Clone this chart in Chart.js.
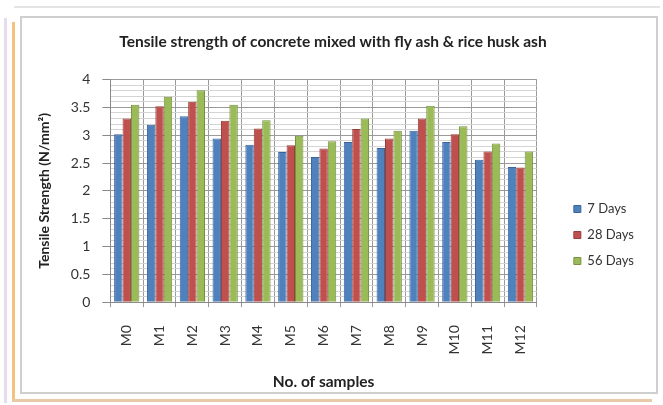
<!DOCTYPE html>
<html><head><meta charset="utf-8">
<script src="https://cdn.jsdelivr.net/npm/chart.js@4"></script>
<style>
html,body{margin:0;padding:0;background:#fff;width:663px;height:405px;overflow:hidden;}
.deco{position:absolute;}
#box{position:absolute;left:20px;top:16px;width:634px;height:374px;border:2px solid #cfcfcf;background:#fff;}
canvas{display:block;}
</style></head><body>
<div class="deco" style="left:4px;top:18px;width:3px;height:385px;background:#e6dcee"></div>
<div class="deco" style="left:12px;top:22px;width:3px;height:380px;background:#f4c27f"></div>
<div class="deco" style="left:14px;top:6px;width:646px;height:2px;background:#e4e4e4"></div>
<div class="deco" style="left:12px;top:399px;width:640px;height:3px;background:#e8c9a8"></div>
<div id="box"><canvas id="c" width="634" height="374"></canvas></div>
<script>
const categories = ['M0','M1','M2','M3','M4','M5','M6','M7','M8','M9','M10','M11','M12'];
const days7  = [3.02,3.19,3.34,2.94,2.83,2.70,2.61,2.88,2.77,3.08,2.88,2.56,2.43];
const days28 = [3.30,3.52,3.60,3.26,3.12,2.82,2.76,3.11,2.94,3.30,3.02,2.71,2.42];
const days56 = [3.55,3.69,3.81,3.55,3.27,2.99,2.89,3.30,3.08,3.53,3.16,2.85,2.71];
const seriesNames = ['7 Days','28 Days','56 Days'];
const yMin = 0, yMax = 4, yMinorStep = 0.1, yMajorStep = 0.5;

const isMajor = v => Math.abs(v / yMajorStep - Math.round(v / yMajorStep)) < 1e-6;
const FONT = 'Lato, "Liberation Sans", sans-serif';

new Chart(document.getElementById('c'), {
  type: 'bar',
  data: {
    labels: categories,
    datasets: [
      {label: seriesNames[0], data: days7,  backgroundColor: '#4F81BD', borderColor: '#3A6499', borderWidth: 1},
      {label: seriesNames[1], data: days28, backgroundColor: '#C0504D', borderColor: '#973D3A', borderWidth: 1},
      {label: seriesNames[2], data: days56, backgroundColor: '#9BBB59', borderColor: '#76923F', borderWidth: 1}
    ]
  },
  options: {
    responsive: false,
    animation: false,
    devicePixelRatio: 1,
    layout: {padding: {left: 0, right: 12, top: 0, bottom: 0}},
    datasets: {bar: {categoryPercentage: 0.77, barPercentage: 1.0}},
    plugins: {
      title: {
        display: true,
        text: 'Tensile strength of concrete mixed with fly ash & rice husk ash',
        font: {family: FONT, size: 15.5, weight: 'bold'},
        color: '#222',
        padding: {top: 15, bottom: 28}
      },
      legend: {
        position: 'right',
        title: {display: true, text: '', font: {family: FONT, size: 12}, padding: {top: 0, bottom: 45.6}},
        labels: {
          boxWidth: 7, boxHeight: 7, padding: 13,
          font: {family: FONT, size: 13},
          color: '#333'
        }
      },
      tooltip: {enabled: false}
    },
    scales: {
      x: {
        grid: {
          offset: true, color: '#9a9a9a', tickLength: 5, tickColor: '#9a9a9a'
        },
        border: {color: '#8a8a8a'},
        ticks: {
          minRotation: 90, maxRotation: 90, padding: 18, autoSkip: false,
          font: {family: FONT, size: 14}, color: '#333'
        },
        title: {
          display: true, text: 'No. of samples',
          font: {family: FONT, size: 15.5, weight: 'bold'}, color: '#222',
          padding: {top: 0, bottom: 1}
        }
      },
      y: {
        min: yMin, max: yMax,
        afterBuildTicks: (scale) => {
          const t = [];
          const n = Math.round((yMax - yMin) / yMinorStep);
          for (let i = 0; i <= n; i++) t.push({value: +(yMin + i * yMinorStep).toFixed(2)});
          scale.ticks = t;
        },
        grid: {
          color: ctx => (ctx.tick && isMajor(ctx.tick.value)) ? '#9a9a9a' : '#d4d4d4',
          tickColor: ctx => (ctx.tick && isMajor(ctx.tick.value)) ? '#8a8a8a' : 'rgba(0,0,0,0)',
          tickLength: 8
        },
        border: {color: '#8a8a8a'},
        ticks: {
          autoSkip: false, padding: 12,
          font: {family: FONT, size: 14}, color: '#333'
          , callback: v => isMajor(v) ? String(+v.toFixed(1)) : ''
        },
        title: {
          display: true, text: 'Tensile Strength (N/mm²)',
          font: {family: FONT, size: 14, weight: 'bold'}, color: '#222',
          padding: {top: 14, bottom: 6}
        }
      },
      ySpacer: {
        position: 'right', display: true,
        grid: {display: false}, border: {display: false},
        ticks: {display: false},
        afterFit: (scale) => { scale.width = 24; }
      }
    }
  }
});
</script>
</body></html>
